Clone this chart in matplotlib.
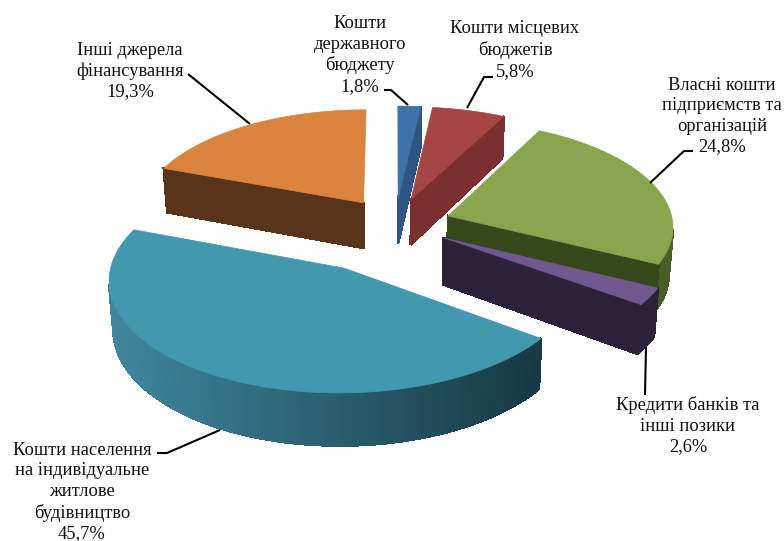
import numpy as np
import matplotlib
matplotlib.use('Agg')
import matplotlib.pyplot as plt
from matplotlib.colors import to_rgb
from matplotlib.patches import Polygon

plt.rcParams['font.family'] = ['Liberation Serif', 'DejaVu Serif']

# clockwise from 12 o'clock
labels = ['Кошти\nдержавного\nбюджету\n1,8%',
          'Кошти місцевих\nбюджетів\n5,8%',
          'Власні кошти\nпідприємств та\nорганізацій\n24,8%',
          'Кредити банків та\nінші позики\n2,6%',
          'Кошти населення\nна індивідуальне\nжитлове\nбудівництво\n45,7%',
          'Інші джерела\nфінансування\n19,3%']
values = [1.8, 5.8, 24.8, 2.6, 45.7, 19.3]
explode = [0.25, 0.25, 0.25, 0.25, 0.46, 0.25]
top_col = ['#3f72aa', '#a64644', '#89a54e', '#71588f', '#4198af', '#db843d']
wall_left = ['#2f5583', '#7a302e', '#36451c', '#2c2239', '#3f879e', '#58351a']
wall_right = ['#2f5583', '#7a302e', '#4a5e27', '#2c2239', '#173943', '#58351a']
label_x = [360, 515, 722, 688, 82, 130]
label_y = [55, 50, 116, 426, 492, 71]

# leader lines, from label to slice
leaders = [[(384, 90), (391, 90), (408, 105)],
           [(493, 77), (484, 77), (467, 108)],
           [(693, 151), (684, 151), (650, 183)],
           [(645, 395), (646, 347)],
           [(157, 453), (167, 453), (220, 430)],
           [(188, 74), (250, 124)]]

# projection of the pie plane on to the picture
X0, Y0 = 395, 224
A, B = 225, 105
K = 0.09
DEPTH = 46
Z_SHRINK = 0.985


def project(u, v):
    w = 1 / (1 - K * v)
    return X0 + A * u * w, Y0 + B * v * w, w


def drop(x, y, w):
    return X0 + (x - X0) * Z_SHRINK, y + DEPTH * w


def mix(c1, c2, t):
    c1, c2 = np.array(to_rgb(c1)), np.array(to_rgb(c2))
    return tuple(c1 + (c2 - c1) * t)


fig = plt.figure(figsize=(7.84, 5.41), dpi=100)
ax = fig.add_axes([0, 0, 1, 1])
ax.set_xlim(0, 784)
ax.set_ylim(541, 0)
ax.axis('off')

total = sum(values)
edges = np.cumsum([0] + values) / total * 2 * np.pi

# back slices first
for i in [5, 0, 1, 2, 3, 4]:
    t1, t2 = edges[i], edges[i + 1]
    mid = (t1 + t2) / 2
    du, dv = explode[i] * np.sin(mid), -explode[i] * np.cos(mid)
    th = np.linspace(t1, t2, max(int((t2 - t1) * 60), 2))
    us = np.r_[du, du + np.sin(th), du]
    vs = np.r_[dv, dv - np.cos(th), dv]
    x, y, w = project(us, vs)

    # a side shows only where the rim runs leftwards on screen
    arc = x[1:-1]
    for j in range(len(x) - 1):
        dx = x[j] - x[j + 1]
        if dx <= 0 or dx < 0.05 * abs(y[j + 1] - y[j]):
            continue
        xb1, yb1 = drop(x[j], y[j], w[j])
        xb2, yb2 = drop(x[j + 1], y[j + 1], w[j + 1])
        t = ((x[j] + x[j + 1]) / 2 - arc.min()) / (arc.max() - arc.min())
        t = min(max(t, 0), 1)
        c = mix(wall_left[i], wall_right[i], t)
        ax.add_patch(Polygon([(x[j], y[j]), (x[j + 1], y[j + 1]), (xb2, yb2), (xb1, yb1)],
                             closed=True, fc=c, ec=c, lw=1.2, antialiased=False))
    ax.add_patch(Polygon(np.c_[x, y], closed=True, fc=top_col[i], ec=top_col[i], lw=0.5))

for pts in leaders:
    pts = np.array(pts)
    ax.plot(pts[:, 0], pts[:, 1], color='black', lw=1.5, solid_capstyle='butt')

for i in range(len(labels)):
    ax.text(label_x[i], label_y[i], labels[i], ha='center', va='center',
            fontsize=13.3, linespacing=1.27, color='#111111')

fig.savefig('out.png', dpi=100)
